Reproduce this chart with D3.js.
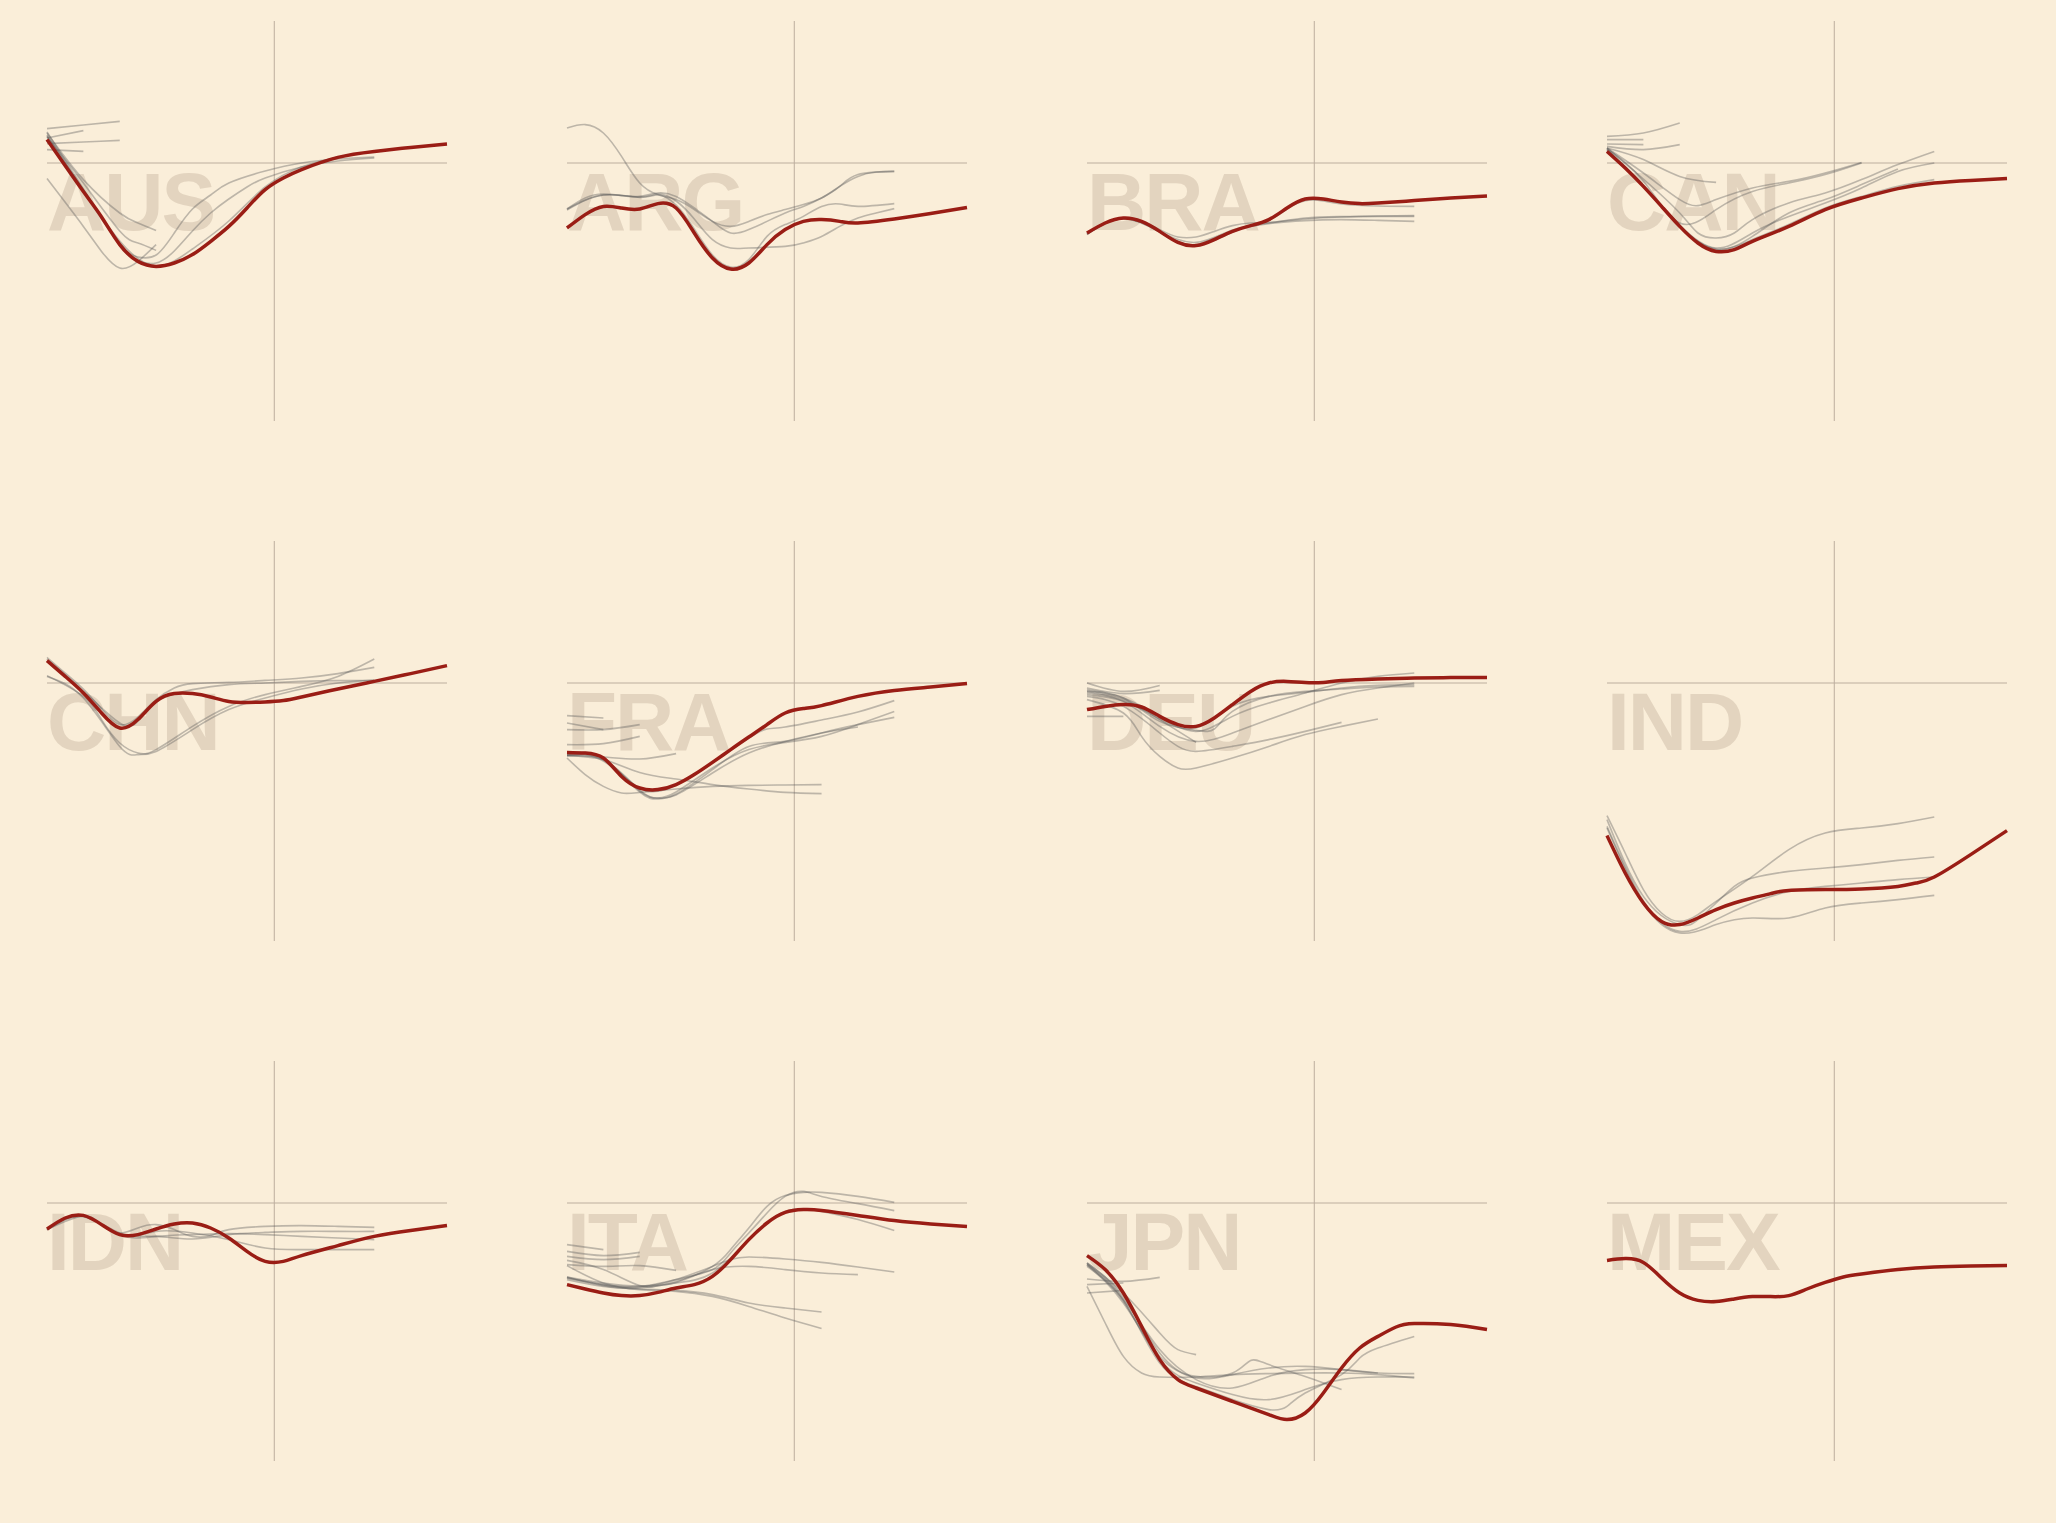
<!DOCTYPE html>
<html>
<head>
<meta charset="utf-8">
<script src="https://cdn.jsdelivr.net/npm/d3@7"></script>
<style>
  html, body { margin: 0; padding: 0; background: #faeed9; }
  svg { display: block; }
</style>
</head>
<body>
<script>
// ---------- DATA ----------
const countries = ["AUS","ARG","BRA","CAN","CHN","FRA","DEU","IND","IDN","ITA","JPN","MEX"];
const xDomain = [0, 11];      // time index (years from start of window)
const nowMark = 6.25;         // vertical reference line
const yDomain = [7.1, -12.9]; // output gap-like values, top to bottom

// Latest (red) series: [t, value]
const AUS_latest = [[0,1.17],[1,-1.43],[1.5,-2.7],[2,-4.08],[2.5,-4.92],[3,-5.17],[3.5,-5.0],[4,-4.58],[4.5,-3.92],[5,-3.17],[5.5,-2.25],[6,-1.33],[6.5,-0.75],[7,-0.33],[8,0.28],[9,0.58],[10,0.78],[11,0.95]];
const ARG_latest = [[0,-3.25],[0.5,-2.58],[1,-2.17],[1.5,-2.25],[2,-2.3],[2.5,-2.03],[3,-2.25],[3.5,-3.5],[4,-4.75],[4.5,-5.3],[5,-5.0],[5.5,-4.08],[6,-3.33],[6.5,-2.92],[7,-2.83],[7.5,-2.92],[8,-3.0],[9,-2.8],[10,-2.53],[11,-2.22]];
const BRA_latest = [[0,-3.5],[0.5,-3.0],[1,-2.75],[1.5,-2.92],[2,-3.42],[2.5,-3.97],[3,-4.13],[3.5,-3.83],[4,-3.42],[4.5,-3.13],[5,-2.83],[5.5,-2.25],[6,-1.8],[6.5,-1.8],[7,-1.95],[7.5,-2.03],[8,-2.0],[9,-1.88],[10,-1.75],[11,-1.65]];
const CAN_latest = [[0,0.58],[0.5,-0.25],[1,-1.17],[1.5,-2.17],[2,-3.17],[2.5,-4.0],[3,-4.42],[3.5,-4.33],[4,-3.92],[5,-3.17],[6,-2.33],[7,-1.75],[8,-1.28],[9,-1.0],[10,-0.87],[11,-0.78]];
const CHN_latest = [[0,1.12],[0.5,0.33],[1,-0.5],[1.5,-1.5],[2,-2.25],[2.5,-1.83],[3,-0.92],[3.5,-0.53],[4,-0.53],[4.5,-0.7],[5,-0.92],[5.5,-0.97],[6,-0.95],[6.5,-0.88],[7,-0.7],[8,-0.3],[9,0.08],[10,0.47],[11,0.87]];
const FRA_latest = [[0,-3.47],[0.5,-3.5],[1,-3.75],[1.5,-4.67],[2,-5.25],[2.5,-5.33],[3,-5.08],[3.5,-4.58],[4,-3.97],[4.5,-3.33],[5,-2.7],[5.5,-2.08],[6,-1.5],[6.5,-1.28],[7,-1.13],[8,-0.67],[9,-0.37],[10,-0.2],[11,-0.03]];
const DEU_latest = [[0,-1.33],[0.5,-1.17],[1,-1.08],[1.5,-1.2],[2,-1.67],[2.5,-2.08],[3,-2.17],[3.5,-1.75],[4,-1.08],[4.5,-0.42],[5,0],[5.5,0.08],[6,0.02],[6.5,0.03],[7,0.12],[8,0.2],[9,0.25],[10,0.27],[11,0.27]];
const IND_latest = [[0,-7.63],[0.5,-9.5],[1,-11.0],[1.5,-11.92],[2,-12.08],[2.5,-11.75],[3,-11.33],[3.5,-11.0],[4,-10.75],[4.5,-10.53],[5,-10.37],[6,-10.33],[7,-10.3],[8,-10.17],[8.5,-10.0],[9,-9.7],[10,-8.58],[11,-7.38]];
const IDN_latest = [[0,-1.3],[0.5,-0.75],[1,-0.62],[1.5,-1.08],[2,-1.58],[2.5,-1.58],[3,-1.3],[3.5,-1.05],[4,-1.0],[4.5,-1.25],[5,-1.75],[5.5,-2.42],[6,-2.92],[6.5,-2.92],[7,-2.63],[8,-2.13],[9,-1.67],[10,-1.37],[11,-1.13]];
const ITA_latest = [[0,-4.08],[0.5,-4.3],[1,-4.5],[1.5,-4.63],[2,-4.63],[2.5,-4.47],[3,-4.25],[3.5,-4.08],[4,-3.67],[4.5,-2.83],[5,-1.83],[5.5,-1.0],[6,-0.47],[6.5,-0.33],[7,-0.37],[8,-0.62],[9,-0.88],[10,-1.05],[11,-1.17]];
const JPN_latest = [[0,-2.63],[0.5,-3.33],[1,-4.5],[1.5,-6.17],[2,-7.83],[2.5,-8.83],[3,-9.25],[4,-9.92],[5,-10.58],[5.5,-10.83],[6,-10.5],[6.5,-9.5],[7,-8.25],[7.5,-7.25],[8,-6.67],[8.5,-6.2],[9,-6.03],[10,-6.08],[11,-6.33]];
const MEX_latest = [[0,-2.87],[0.5,-2.78],[1,-2.97],[1.5,-3.75],[2,-4.5],[2.5,-4.87],[3,-4.93],[3.5,-4.8],[4,-4.68],[4.5,-4.68],[5,-4.63],[5.5,-4.3],[6,-3.97],[6.5,-3.7],[7,-3.55],[8,-3.33],[9,-3.2],[10,-3.15],[11,-3.12]];

// Earlier forecast vintages (grey)
const AUS_vintages = [
  [[0,1.72],[1,1.9],[2,2.08]],
  [[0,1.25],[1,1.62]],
  [[0,0.97],[1,1.05],[2,1.13]],
  [[0,0.67],[1,0.58]],
  [[0,-0.78],[1,-3.17],[1.5,-4.42],[2,-5.25],[2.5,-4.92],[3,-4.08]],
  [[0,1.5],[1,-0.83],[2,-2.5],[2.5,-3.0],[3,-3.38]],
  [[0,1.3],[1,-1.0],[2,-3.4],[2.5,-4.0],[3,-4.37]],
  [[0,1.55],[1,-1.3],[2,-4.0],[2.5,-4.7],[3,-4.6],[3.5,-3.5],[4,-2.3],[4.5,-1.6],[5,-1.0],[6,-0.4],[7,0],[8,0.2],[9,0.3]],
  [[0,1.4],[1,-1.4],[2,-4.1],[2.5,-4.9],[3,-5.0],[3.5,-4.4],[4,-3.4],[4.5,-2.5],[5,-1.8],[5.5,-1.2],[6,-0.75],[7,-0.2],[8,0.1],[9,0.25]],
  [[0,1.35],[1,-1.35],[2,-3.9],[3,-5.15],[4,-4.3],[5,-2.9],[6,-1.2],[7,-0.2],[8,0.3]]
];
const ARG_vintages = [
  [[0,1.75],[0.5,1.92],[1,1.5],[1.5,0.33],[2,-1.0],[2.5,-1.58],[3,-1.83],[3.5,-2.33],[4,-2.92],[4.5,-3.17],[5,-2.92],[5.5,-2.58],[6,-2.33],[6.5,-2.08],[7,-1.75],[7.5,-1.17],[8,-0.67],[8.5,-0.45],[9,-0.42]],
  [[0,-2.3],[0.5,-1.75],[1,-1.55],[1.5,-1.63],[2,-1.67],[2.5,-1.5],[3,-1.67],[3.5,-2.25],[4,-2.92],[4.5,-3.5],[5,-3.33],[5.5,-2.92],[6,-2.5],[6.5,-2.17],[7,-1.75],[7.5,-1.17],[8,-0.58],[9,-0.42]],
  [[0,-2.3],[1,-1.6],[2,-1.7],[2.5,-1.55],[3,-1.9],[3.5,-2.8],[4,-3.83],[4.5,-4.25],[5,-4.25],[6,-4.17],[6.5,-4.0],[7,-3.67],[7.5,-3.17],[8,-2.75],[8.5,-2.5],[9,-2.28]],
  [[0,-2.35],[1,-1.6],[2,-1.72],[2.5,-1.6],[3,-2.1],[3.5,-3.3],[4,-4.6],[4.5,-5.2],[5,-4.83],[5.5,-3.67],[6,-3.08],[6.5,-2.67],[7,-2.17],[7.5,-2.05],[8,-2.17],[9,-2.03]]
];
const BRA_vintages = [
  [[0,-3.55],[1,-2.78],[2,-3.45],[2.5,-3.95],[3,-4.1],[4,-3.4],[5,-2.85],[5.5,-2.3],[6,-1.88],[6.5,-1.9],[7,-2.05],[8,-2.15],[9,-2.17]],
  [[0,-3.58],[1,-2.75],[2,-3.33],[2.5,-3.7],[3,-3.7],[3.5,-3.42],[4,-3.13],[4.5,-3.0],[5,-2.97],[6,-2.8],[7,-2.7],[8,-2.67],[9,-2.67]],
  [[0,-3.55],[1,-2.77],[2,-3.45],[3,-4.1],[4,-3.45],[4.5,-3.17],[5,-3.03],[6,-2.88],[7,-2.83],[8,-2.87],[9,-2.92]],
  [[0,-3.5],[1,-2.78],[2,-3.42],[3,-3.97],[4,-3.35],[5,-3.0],[6,-2.75],[7,-2.68],[8,-2.65],[9,-2.63]]
];
const CAN_vintages = [
  [[0,1.33],[1,1.5],[2,2.0]],
  [[0,1.17],[1,1.17]],
  [[0,0.95],[1,0.92]],
  [[0,0.83],[1,0.67],[2,0.92]],
  [[0,0.75],[1,0.17],[2,-0.67],[3,-0.97]],
  [[0,0.75],[1,-0.5],[2,-1.83],[2.5,-2.13],[3,-1.83],[4,-1.25],[5,-0.92],[6,-0.5],[7,0.03]],
  [[0,0.7],[1,-0.9],[2,-3.0],[3,-2.33],[4,-1.42],[5,-1.0],[6,-0.58],[7,0]],
  [[0,0.75],[1,-0.8],[2,-2.5],[2.5,-3.5],[3,-3.75],[3.5,-3.5],[4,-2.83],[5,-2.0],[6,-1.5],[7,-0.83],[8,-0.08],[9,0.58]],
  [[0,0.7],[1,-1.1],[2,-3.1],[3,-4.25],[4,-3.5],[5,-2.67],[6,-2.0],[7,-1.25],[8,-0.42],[9,0]],
  [[0,0.65],[1,-1.15],[2,-3.15],[3,-4.33],[4,-3.67],[5,-2.5],[6,-1.83],[7,-1.08],[8,-0.3]],
  [[0,0.62],[1,-1.17],[2,-3.17],[3,-4.3],[4,-3.83],[5,-3.08],[6,-2.25],[7,-1.67],[8,-1.17],[9,-0.83]]
];
const CHN_vintages = [
  [[0,1.28],[0.5,0.5],[1,-0.3],[1.5,-1.3],[2,-2.08],[2.5,-1.7],[3,-0.83],[3.5,-0.25],[4,-0.03],[5,0.03],[6,0.13],[7,0.25],[8,0.47],[9,0.78]],
  [[0,1.2],[1,-0.4],[2,-2.0],[2.5,-1.9],[3,-0.92],[4,-0.33],[5,-0.08],[6,0],[7,0.08],[8,0.12],[9,0.12]],
  [[0,0.37],[1,-0.67],[1.5,-1.83],[2,-3.0],[2.5,-3.5],[3,-3.33],[4,-2.17],[5,-1.17],[6,-0.58],[7,-0.17],[8,0.33],[9,1.2]],
  [[0,0.33],[1,-0.75],[2,-3.17],[2.5,-3.58],[3,-3.42],[4,-2.33],[5,-1.33],[6,-0.75],[7,-0.3],[8,0.0],[9,0.15]]
];
const FRA_vintages = [
  [[0,-1.63],[1,-1.75]],
  [[0,-2.0],[1,-2.33]],
  [[0,-2.33],[1,-2.33],[2,-2.08]],
  [[0,-3.08],[1,-3.03],[2,-2.67]],
  [[0,-3.63],[1,-3.7],[2,-3.8],[3,-3.53]],
  [[0,-3.75],[0.5,-4.58],[1,-5.17],[1.5,-5.5],[2,-5.47],[3,-5.3],[4,-5.17],[5,-5.12],[6,-5.1],[7,-5.08]],
  [[0,-3.63],[1,-3.83],[2,-4.47],[3,-4.8],[4,-5.08],[5,-5.3],[6,-5.47],[7,-5.53]],
  [[0,-3.6],[1,-3.85],[2,-5.4],[2.5,-5.75],[3,-5.6],[4,-4.5],[5,-3.5],[6,-2.92],[7,-2.5],[8,-2.2]],
  [[0,-3.62],[1,-3.9],[2,-5.45],[2.5,-5.8],[3,-5.55],[4,-4.33],[5,-3.17],[6,-2.92],[7,-2.5],[8,-2.08],[9,-1.72]],
  [[0,-3.58],[1,-3.8],[2,-5.35],[2.5,-5.75],[3,-5.45],[4,-4.25],[5,-3.33],[6,-2.97],[7,-2.67],[8,-2.08],[9,-1.43]],
  [[0,-3.5],[1,-3.77],[2,-5.28],[3,-5.1],[4,-4.0],[5,-2.75],[5.5,-2.3],[6,-2.2],[7,-1.85],[8,-1.45],[9,-0.88]]
];
const DEU_vintages = [
  [[0,0],[1,-0.42],[2,-0.12]],
  [[0,-0.25],[1,-0.53],[2,-0.37]],
  [[0,-1.67],[1,-1.67]],
  [[0,-0.42],[1,-0.83],[2,-1.83],[3,-2.97]],
  [[0,-0.67],[1,-1.17],[2,-2.5],[2.5,-3.17],[3,-3.42],[4,-3.17],[5,-2.83],[6,-2.42],[7,-1.97]],
  [[0,-0.83],[1,-1.5],[1.5,-2.67],[2,-3.67],[2.5,-4.25],[3,-4.25],[4,-3.75],[5,-3.17],[6,-2.58],[7,-2.17],[8,-1.8]],
  [[0,-0.33],[1,-0.75],[2,-1.67],[3,-2.42],[4,-1.67],[5,-1.0],[6,-0.5],[7,0],[8,0.33],[9,0.5]],
  [[0,-0.5],[1,-0.92],[2,-2.17],[3,-2.92],[4,-2.5],[5,-1.83],[6,-1.17],[7,-0.58],[8,-0.25],[9,0]],
  [[0,-0.42],[1,-0.75],[2,-1.92],[3,-2.37],[3.5,-2.3],[4,-1.42],[5,-0.67],[6,-0.42],[7,-0.3],[8,-0.2],[9,-0.17]],
  [[0,-0.58],[1,-0.9],[2,-1.8],[3,-2.25],[4,-1.17],[5,-0.67],[6,-0.47],[7,-0.25],[8,-0.12],[9,-0.08]]
];
const IND_vintages = [
  [[0,-6.63],[0.5,-8.5],[1,-10.33],[1.5,-11.5],[2,-11.92],[2.5,-11.58],[3,-10.92],[4,-9.67],[5,-8.33],[6,-7.5],[7,-7.25],[8,-7.03],[9,-6.7]],
  [[0,-6.83],[1,-10.67],[2,-12.08],[2.5,-11.83],[3,-11.0],[3.5,-10.17],[4,-9.75],[5,-9.42],[6,-9.25],[7,-9.08],[8,-8.87],[9,-8.7]],
  [[0,-7.17],[1,-10.9],[2,-12.42],[3,-11.83],[4,-11.0],[5,-10.42],[6,-10.17],[7,-10.0],[8,-9.83],[9,-9.7]],
  [[0,-7.25],[1,-11.0],[2,-12.5],[3,-12.08],[4,-11.75],[5,-11.75],[6,-11.25],[7,-11.0],[8,-10.83],[9,-10.62]]
];
const IDN_vintages = [
  [[0,-1.33],[1,-0.65],[1.5,-1.1],[2,-1.5],[2.5,-1.25],[3,-1.08],[3.5,-1.33],[4,-1.67],[4.5,-1.63],[5,-1.33],[6,-1.17],[7,-1.13],[8,-1.17],[9,-1.22]],
  [[0,-1.35],[1,-0.68],[2,-1.5],[3,-1.67],[4,-1.8],[5,-1.58],[6,-1.47],[7,-1.42],[8,-1.42],[9,-1.42]],
  [[0,-1.3],[1,-0.65],[2,-1.58],[3,-1.42],[4,-1.5],[5,-1.83],[6,-2.25],[7,-2.33],[8,-2.33],[9,-2.33]],
  [[0,-1.32],[1,-0.66],[2,-1.6],[3,-1.67],[4,-1.58],[5,-1.53],[6,-1.58],[7,-1.67],[8,-1.75],[9,-1.83]]
];
const ITA_vintages = [
  [[0,-2.08],[1,-2.33]],
  [[0,-2.42],[1,-2.63],[2,-2.47]],
  [[0,-2.67],[1,-2.83],[2,-2.67]],
  [[0,-3.08],[1,-3.17],[2,-3.13],[3,-3.37]],
  [[0,-2.87],[1,-3.33],[2,-4.13],[2.5,-4.13],[3,-3.97],[4,-3.17],[4.5,-2.33],[5,-1.25],[5.5,-0.17],[6,0.37],[6.5,0.53],[7,0.53],[8,0.33],[9,0.03]],
  [[0,-3.75],[1,-4.08],[2,-4.17],[3,-3.83],[4,-3.33],[4.5,-2.5],[5,-1.5],[5.5,-0.5],[6,0.33],[6.5,0.58],[7,0.33],[8,-0.03],[9,-0.38]],
  [[0,-3.83],[1,-4.17],[2,-4.25],[3,-4.0],[4,-3.5],[5,-1.83],[6,-0.42],[7,-0.42],[8,-0.83],[9,-1.38]],
  [[0,-3.75],[1,-4.08],[2,-4.2],[3,-3.83],[4,-3.17],[4.5,-2.83],[5,-2.7],[6,-2.8],[7,-2.97],[8,-3.2],[9,-3.45]],
  [[0,-3.7],[1,-4.0],[2,-4.15],[3,-3.92],[4,-3.33],[5,-3.17],[6,-3.33],[7,-3.5],[8,-3.58]],
  [[0,-3.7],[1,-4.13],[2,-4.3],[3,-4.37],[4,-4.58],[5,-5.0],[6,-5.25],[7,-5.45]],
  [[0,-3.13],[1,-4.0],[2,-4.33],[3,-4.42],[4,-4.67],[5,-5.17],[6,-5.75],[7,-6.27]]
];
const JPN_vintages = [
  [[0,-3.8],[1,-3.92],[2,-3.72]],
  [[0,-4.08],[1,-4.0]],
  [[0,-4.5],[1,-4.37]],
  [[0,-3.0],[1,-4.5],[2,-6.5],[2.5,-7.33],[3,-7.58]],
  [[0,-4.17],[0.5,-6.0],[1,-7.67],[1.5,-8.5],[2,-8.7],[3,-8.7],[4,-8.58],[5,-8.53],[6,-8.5],[7,-8.5],[8,-8.58],[9,-8.75]],
  [[0,-3.08],[1,-5.0],[2,-7.67],[3,-8.67],[4,-8.5],[4.5,-7.87],[5,-8.08],[6,-8.67],[7,-9.33]],
  [[0,-3.03],[1,-4.83],[2,-7.33],[3,-8.83],[4,-9.25],[5,-8.67],[6,-8.33],[7,-8.33],[8,-8.5]],
  [[0,-3.17],[1,-4.9],[2,-7.83],[3,-9.0],[4,-9.58],[5,-9.83],[6,-9.33],[7,-8.83],[8,-8.7],[9,-8.7]],
  [[0,-3.1],[1,-4.85],[2,-8.0],[3,-9.17],[4,-9.83],[5,-10.33],[5.5,-10.17],[6,-9.5],[7,-8.58],[7.5,-7.75],[8,-7.25],[9,-6.67]],
  [[0,-3.0],[1,-4.7],[2,-7.5],[3,-8.75],[4,-8.58],[5,-8.25],[6,-8.17],[7,-8.33],[8,-8.5],[9,-8.53]]
];
const MEX_vintages = [];

const latestByCountry = {AUS:AUS_latest, ARG:ARG_latest, BRA:BRA_latest, CAN:CAN_latest, CHN:CHN_latest, FRA:FRA_latest,
  DEU:DEU_latest, IND:IND_latest, IDN:IDN_latest, ITA:ITA_latest, JPN:JPN_latest, MEX:MEX_latest};
const vintagesByCountry = {AUS:AUS_vintages, ARG:ARG_vintages, BRA:BRA_vintages, CAN:CAN_vintages, CHN:CHN_vintages, FRA:FRA_vintages,
  DEU:DEU_vintages, IND:IND_vintages, IDN:IDN_vintages, ITA:ITA_vintages, JPN:JPN_vintages, MEX:MEX_vintages};

// ---------- LAYOUT ----------
const W = 2056, H = 1523;
const panelW = 400, panelH = 400;
const originX = 47, originY = 21, gapX = 120, gapY = 120, nCols = 4;

const svg = d3.select("body").append("svg").attr("width", W).attr("height", H);
svg.append("rect").attr("width", W).attr("height", H).attr("fill", "#faeed9");

const x = d3.scaleLinear().domain(xDomain).range([0, panelW]);
const y = d3.scaleLinear().domain(yDomain).range([0, panelH]);
const line = d3.line().x(d => x(d[0])).y(d => y(d[1])).curve(d3.curveNatural);

countries.forEach((c, i) => {
  const col = i % nCols, row = Math.floor(i / nCols);
  const g = svg.append("g")
    .attr("transform", `translate(${originX + col * (panelW + gapX)},${originY + row * (panelH + gapY)})`);

  // reference lines
  g.append("line").attr("x1", x(xDomain[0])).attr("x2", x(xDomain[1]))
    .attr("y1", y(0)).attr("y2", y(0))
    .attr("stroke", "#bcae9e").attr("stroke-width", 1);
  g.append("line").attr("x1", x(nowMark)).attr("x2", x(nowMark))
    .attr("y1", 0).attr("y2", panelH)
    .attr("stroke", "#bcae9e").attr("stroke-width", 1);

  // country label
  g.append("text")
    .attr("x", 0).attr("y", y(0) + 67)
    .attr("font-family", "'Liberation Sans', Arial, Helvetica, sans-serif")
    .attr("font-weight", "bold")
    .attr("font-size", 82)
    .attr("letter-spacing", -2)
    .attr("fill", "#e3d4bf")
    .text(c);

  // vintages
  g.selectAll("path.vintage").data(vintagesByCountry[c]).enter().append("path")
    .attr("class", "vintage")
    .attr("d", line)
    .attr("fill", "none")
    .attr("stroke", "#5a5a5a")
    .attr("stroke-opacity", 0.38)
    .attr("stroke-width", 1.6);

  // latest
  g.append("path").datum(latestByCountry[c])
    .attr("d", line)
    .attr("fill", "none")
    .attr("stroke", "#9a1d15")
    .attr("stroke-width", 3.5);
});
</script>
</body>
</html>
